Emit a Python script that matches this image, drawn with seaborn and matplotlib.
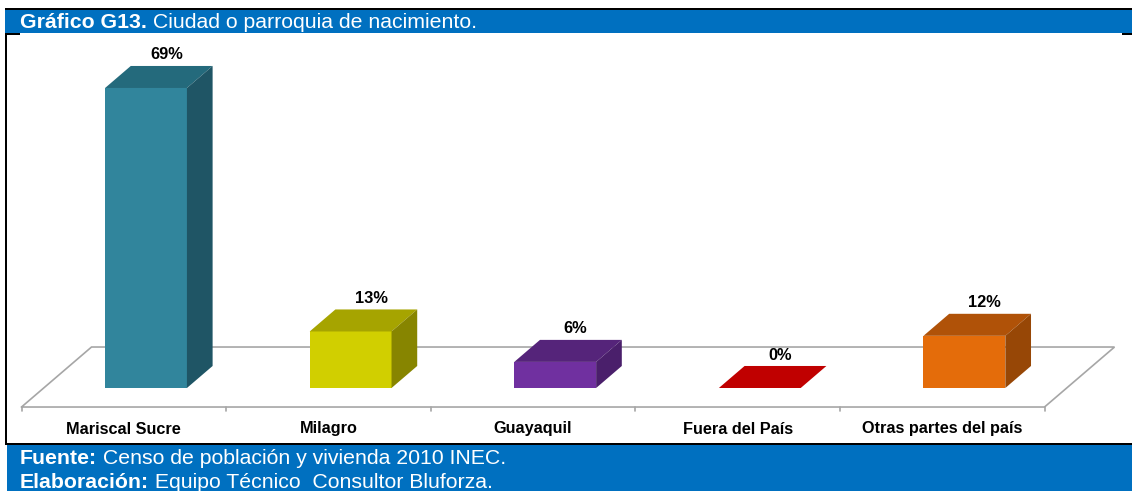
import matplotlib
matplotlib.use("Agg")
import matplotlib.pyplot as plt
from matplotlib.patches import Polygon, Rectangle
import pandas as pd
import seaborn as sns

# ---- data -------------------------------------------------------------
categories = ["Mariscal Sucre", "Milagro", "Guayaquil", "Fuera del País", "Otras partes del país"]
shares = [69, 13, 6, 0, 12]

front_colors = ["#31859C", "#D1CF00", "#7030A0", "#C00000", "#E46C0A"]
top_colors = ["#246A7C", "#A6A400", "#55247A", "#C00000", "#B05208"]
side_colors = ["#1F5565", "#878500", "#4A1F6B", "#9A0000", "#974706"]

title_bold = "Gráfico G13."
title_rest = " Ciudad o parroquia de nacimiento."
source_bold = "Fuente:"
source_rest = " Censo de población y vivienda 2010 INEC."
credit_bold = "Elaboración:"
credit_rest = " Equipo Técnico  Consultor Bluforza."

# ---- figure setup -----------------------------------------------------
W, H, DPI = 1132, 491, 100
sns.set_theme(style="white")
plt.rcParams["font.family"] = ["Liberation Sans", "DejaVu Sans"]

fig = plt.figure(figsize=(W / DPI, H / DPI), dpi=DPI)
fig.patch.set_facecolor("white")

# scale of the chart: pixels per category step and per percentage point
PX_CAT = 204.6
PX_PCT = 4.348
X0_PX, Y0_PX = 146, 388          # category 0 / 0 % on the bars' front plane
AX_L, AX_R, AX_T, AX_B = 15, 1120, 40, 420

ax = fig.add_axes([AX_L / W, 1 - AX_B / H, (AX_R - AX_L) / W, (AX_B - AX_T) / H])

df = pd.DataFrame({"lugar": categories, "pct": shares})
sns.barplot(data=df, x="lugar", y="pct", hue="lugar", palette=front_colors,
            width=0.4, saturation=1, linewidth=0, legend=False, ax=ax, zorder=3)

ax.set_xlim((AX_L - X0_PX) / PX_CAT, (AX_R - X0_PX) / PX_CAT)
ax.set_ylim((Y0_PX - AX_B) / PX_PCT, (Y0_PX - AX_T) / PX_PCT)
ax.axis("off")

# oblique depth vector of the floor (data units) and the share used by bars
DEPTH = (70 / PX_CAT, 60 / PX_PCT)
FRONT_SHIFT = 0.317
BAR_DEPTH = 0.367
fdx, fdy = -FRONT_SHIFT * DEPTH[0], -FRONT_SHIFT * DEPTH[1]
bdx, bdy = (1 - FRONT_SHIFT) * DEPTH[0], (1 - FRONT_SHIFT) * DEPTH[1]
ddx, ddy = BAR_DEPTH * DEPTH[0], BAR_DEPTH * DEPTH[1]

n = len(categories)
floor_col = "#A6A6A6"
lo, hi = -0.5, n - 0.5
floor = [(lo + fdx, fdy), (hi + fdx, fdy), (hi + bdx, bdy), (lo + bdx, bdy), (lo + fdx, fdy)]
ax.plot([p[0] for p in floor], [p[1] for p in floor], color=floor_col, lw=1.2, zorder=1,
        solid_joinstyle="miter")
tick_len = 4 / PX_PCT
for i in range(n + 1):
    xb = i - 0.5 + fdx
    ax.plot([xb, xb], [fdy, fdy - tick_len], color=floor_col, lw=1.2, zorder=1)

# 3D faces on top of the seaborn bars
patches = sorted(ax.patches, key=lambda p: p.get_x())
for p, val, tc, sc in zip(patches, shares, top_colors, side_colors):
    x, w, h = p.get_x(), p.get_width(), p.get_height()
    top = [(x, h), (x + w, h), (x + w + ddx, h + ddy), (x + ddx, h + ddy)]
    ax.add_patch(Polygon(top, closed=True, facecolor=tc, edgecolor="none", zorder=4))
    if h > 0:
        side = [(x + w, 0), (x + w + ddx, ddy), (x + w + ddx, h + ddy), (x + w, h)]
        ax.add_patch(Polygon(side, closed=True, facecolor=sc, edgecolor="none", zorder=4))
    ax.text(x + w / 2 + 0.1, h + ddy + 0.8, f"{val}%", ha="center", va="bottom",
            fontsize=11.8, fontweight="bold", color="black", zorder=5)

for i, name in enumerate(categories):
    ax.text(i + fdx, (Y0_PX - 429) / PX_PCT, name, ha="center", va="center",
            fontsize=11.7, fontweight="bold", color="black")

# ---- header / footer frame --------------------------------------------
BLUE = "#0070C0"


def rect(x0, y0, x1, y1, color, z=0):
    fig.add_artist(Rectangle((x0 / W, 1 - y1 / H), (x1 - x0) / W, (y1 - y0) / H,
                             transform=fig.transFigure, facecolor=color,
                             edgecolor="none", zorder=z))


rect(5, 9, W, 33, BLUE)
rect(5, 7.5, W, 9.5, "black", 1)
rect(5, 33, 20, 35, "black", 1)
rect(1122, 33, W, 35, "black", 1)
rect(5, 33, 7, 445, "black", 1)
rect(5, 443, W, 445, "black", 1)
rect(7, 445, W, H, BLUE)

renderer = fig.canvas.get_renderer()


def rich_line(x_px, y_px, bold, rest, size):
    t = fig.text(x_px / W, 1 - y_px / H, bold, color="white", fontsize=size,
                 fontweight="bold", va="center", ha="left", zorder=3)
    bb = t.get_window_extent(renderer)
    fig.text(bb.x1 / W, 1 - y_px / H, rest, color="white", fontsize=size,
             va="center", ha="left", zorder=3)


rich_line(20, 22, title_bold, title_rest, 15.3)
rich_line(20, 458, source_bold, source_rest, 15.3)
rich_line(20, 482, credit_bold, credit_rest, 15.3)

fig.savefig("out.png", dpi=DPI)
